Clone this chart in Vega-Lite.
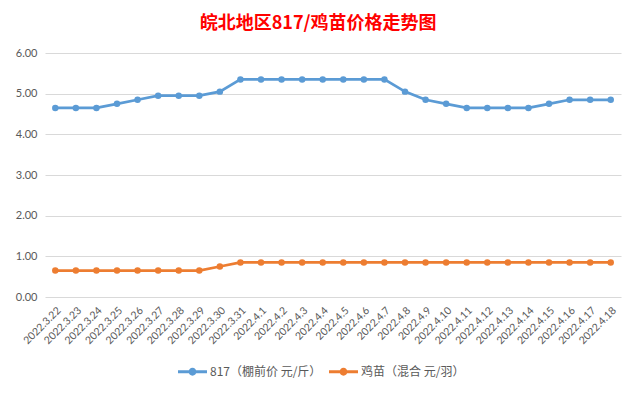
{
  "$schema": "https://vega.github.io/schema/vega-lite/v6.json",
  "autosize": {"type": "none"},
  "width": 576,
  "height": 244,
  "padding": {"left": 45, "top": 53, "right": 18, "bottom": 97},
  "background": "white",
  "title": {
    "text": "皖北地区817/鸡苗价格走势图",
    "color": "#FF0000",
    "font": "Noto Sans CJK SC",
    "fontSize": 18,
    "fontWeight": "bold",
    "anchor": "middle",
    "frame": "bounds",
    "offset": 14
  },
  "datasets": {
    "prices": [
      {"date": "2022.3.22", "series": "817（棚前价 元/斤）", "value": 4.65},
      {"date": "2022.3.23", "series": "817（棚前价 元/斤）", "value": 4.65},
      {"date": "2022.3.24", "series": "817（棚前价 元/斤）", "value": 4.65},
      {"date": "2022.3.25", "series": "817（棚前价 元/斤）", "value": 4.75},
      {"date": "2022.3.26", "series": "817（棚前价 元/斤）", "value": 4.85},
      {"date": "2022.3.27", "series": "817（棚前价 元/斤）", "value": 4.95},
      {"date": "2022.3.28", "series": "817（棚前价 元/斤）", "value": 4.95},
      {"date": "2022.3.29", "series": "817（棚前价 元/斤）", "value": 4.95},
      {"date": "2022.3.30", "series": "817（棚前价 元/斤）", "value": 5.05},
      {"date": "2022.3.31", "series": "817（棚前价 元/斤）", "value": 5.35},
      {"date": "2022.4.1", "series": "817（棚前价 元/斤）", "value": 5.35},
      {"date": "2022.4.2", "series": "817（棚前价 元/斤）", "value": 5.35},
      {"date": "2022.4.3", "series": "817（棚前价 元/斤）", "value": 5.35},
      {"date": "2022.4.4", "series": "817（棚前价 元/斤）", "value": 5.35},
      {"date": "2022.4.5", "series": "817（棚前价 元/斤）", "value": 5.35},
      {"date": "2022.4.6", "series": "817（棚前价 元/斤）", "value": 5.35},
      {"date": "2022.4.7", "series": "817（棚前价 元/斤）", "value": 5.35},
      {"date": "2022.4.8", "series": "817（棚前价 元/斤）", "value": 5.05},
      {"date": "2022.4.9", "series": "817（棚前价 元/斤）", "value": 4.85},
      {"date": "2022.4.10", "series": "817（棚前价 元/斤）", "value": 4.75},
      {"date": "2022.4.11", "series": "817（棚前价 元/斤）", "value": 4.65},
      {"date": "2022.4.12", "series": "817（棚前价 元/斤）", "value": 4.65},
      {"date": "2022.4.13", "series": "817（棚前价 元/斤）", "value": 4.65},
      {"date": "2022.4.14", "series": "817（棚前价 元/斤）", "value": 4.65},
      {"date": "2022.4.15", "series": "817（棚前价 元/斤）", "value": 4.75},
      {"date": "2022.4.16", "series": "817（棚前价 元/斤）", "value": 4.85},
      {"date": "2022.4.17", "series": "817（棚前价 元/斤）", "value": 4.85},
      {"date": "2022.4.18", "series": "817（棚前价 元/斤）", "value": 4.85},
      {"date": "2022.3.22", "series": "鸡苗（混合 元/羽）", "value": 0.65},
      {"date": "2022.3.23", "series": "鸡苗（混合 元/羽）", "value": 0.65},
      {"date": "2022.3.24", "series": "鸡苗（混合 元/羽）", "value": 0.65},
      {"date": "2022.3.25", "series": "鸡苗（混合 元/羽）", "value": 0.65},
      {"date": "2022.3.26", "series": "鸡苗（混合 元/羽）", "value": 0.65},
      {"date": "2022.3.27", "series": "鸡苗（混合 元/羽）", "value": 0.65},
      {"date": "2022.3.28", "series": "鸡苗（混合 元/羽）", "value": 0.65},
      {"date": "2022.3.29", "series": "鸡苗（混合 元/羽）", "value": 0.65},
      {"date": "2022.3.30", "series": "鸡苗（混合 元/羽）", "value": 0.75},
      {"date": "2022.3.31", "series": "鸡苗（混合 元/羽）", "value": 0.85},
      {"date": "2022.4.1", "series": "鸡苗（混合 元/羽）", "value": 0.85},
      {"date": "2022.4.2", "series": "鸡苗（混合 元/羽）", "value": 0.85},
      {"date": "2022.4.3", "series": "鸡苗（混合 元/羽）", "value": 0.85},
      {"date": "2022.4.4", "series": "鸡苗（混合 元/羽）", "value": 0.85},
      {"date": "2022.4.5", "series": "鸡苗（混合 元/羽）", "value": 0.85},
      {"date": "2022.4.6", "series": "鸡苗（混合 元/羽）", "value": 0.85},
      {"date": "2022.4.7", "series": "鸡苗（混合 元/羽）", "value": 0.85},
      {"date": "2022.4.8", "series": "鸡苗（混合 元/羽）", "value": 0.85},
      {"date": "2022.4.9", "series": "鸡苗（混合 元/羽）", "value": 0.85},
      {"date": "2022.4.10", "series": "鸡苗（混合 元/羽）", "value": 0.85},
      {"date": "2022.4.11", "series": "鸡苗（混合 元/羽）", "value": 0.85},
      {"date": "2022.4.12", "series": "鸡苗（混合 元/羽）", "value": 0.85},
      {"date": "2022.4.13", "series": "鸡苗（混合 元/羽）", "value": 0.85},
      {"date": "2022.4.14", "series": "鸡苗（混合 元/羽）", "value": 0.85},
      {"date": "2022.4.15", "series": "鸡苗（混合 元/羽）", "value": 0.85},
      {"date": "2022.4.16", "series": "鸡苗（混合 元/羽）", "value": 0.85},
      {"date": "2022.4.17", "series": "鸡苗（混合 元/羽）", "value": 0.85},
      {"date": "2022.4.18", "series": "鸡苗（混合 元/羽）", "value": 0.85}
    ]
  },
  "data": {"name": "prices"},
  "config": {
    "view": {"stroke": null},
    "axis": {"labelColor": "#595959", "gridColor": "#d9d9d9", "gridWidth": 1}
  },
  "encoding": {
    "x": {
      "field": "date",
      "type": "nominal",
      "sort": null,
      "axis": {
        "title": null,
        "labelAngle": -45,
        "labelFont": "Lato",
        "labelFontSize": 10.5,
        "ticks": false,
        "domain": false,
        "grid": false,
        "labelPadding": 8,
        "labelOverlap": false
      }
    },
    "y": {
      "field": "value",
      "type": "quantitative",
      "scale": {"domain": [0, 6], "nice": false, "zero": true},
      "axis": {
        "title": null,
        "format": ".2f",
        "values": [0, 1, 2, 3, 4, 5, 6],
        "labelFont": "Lato",
        "labelFontSize": 11,
        "ticks": false,
        "domain": false,
        "labelPadding": 8
      }
    },
    "color": {
      "field": "series",
      "type": "nominal",
      "scale": {
        "domain": ["817（棚前价 元/斤）", "鸡苗（混合 元/羽）"],
        "range": ["#5B9BD5", "#ED7D31"]
      },
      "legend": {
        "title": null,
        "orient": "none",
        "direction": "horizontal",
        "legendX": 133,
        "legendY": 304,
        "labelFont": "Noto Sans CJK SC",
        "labelFontSize": 12,
        "labelColor": "#595959",
        "symbolType": "M-1,-0.1L-0.25,-0.1L-0.25,0.1L-1,0.1ZM0.25,-0.1L1,-0.1L1,0.1L0.25,0.1ZM0.27,0A0.27,0.27,0,1,1,-0.27,0A0.27,0.27,0,1,1,0.27,0Z",
        "symbolSize": 841,
        "symbolStrokeWidth": 0,
        "columnPadding": 7,
        "labelOffset": 3,
        "encode": {
          "symbols": {
            "update": {
              "fill": {"scale": "color", "field": "value"},
              "opacity": {"value": 1}
            }
          }
        }
      }
    }
  },
  "layer": [
    {"mark": {"type": "line", "strokeWidth": 2.75}},
    {"mark": {"type": "point", "filled": true, "size": 42, "opacity": 1}}
  ]
}
